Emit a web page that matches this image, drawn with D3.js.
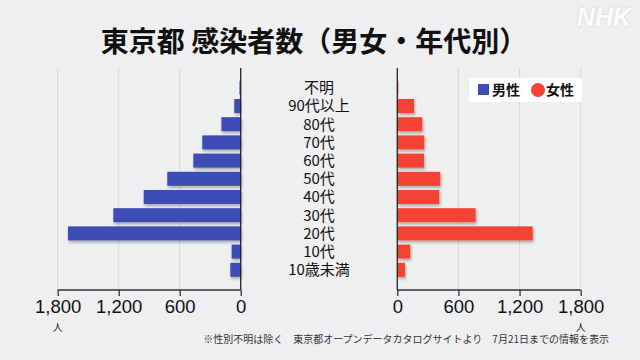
<!DOCTYPE html>
<html>
<head>
<meta charset="utf-8">
<script src="https://d3js.org/d3.v7.min.js"></script>
<style>
  html, body { margin: 0; padding: 0; background: #eeeff1; }
  svg { display: block; }
</style>
</head>
<body>
<div id="chart"></div>
<script>
// Tokyo infections by sex and age group
const ageGroups = ['不明', '90代以上', '80代', '70代', '60代', '50代', '40代', '30代', '20代', '10代', '10歳未満'];
const maleValues = [12, 63, 190, 378, 466, 722, 954, 1253, 1699, 89, 102];
const femaleValues = [10, 164, 245, 265, 262, 422, 412, 769, 1329, 128, 76];
const tickValues = [0, 600, 1200, 1800];

const width = 640;
const height = 360;
const font = '"Noto Sans CJK JP", "Noto Sans", sans-serif';
const numFont = '"Liberation Sans", Arial, sans-serif';

const svg = d3.select('#chart').append('svg')
    .attr('width', width)
    .attr('height', height)
    .style('background', '#eeeff1');

const defs = svg.append('defs');

// drop shadow for bars
const filter = defs.append('filter')
    .attr('id', 'shadow')
    .attr('x', '-20%').attr('y', '-40%')
    .attr('width', '140%').attr('height', '200%');
filter.append('feDropShadow')
    .attr('dx', 1).attr('dy', 2)
    .attr('stdDeviation', 1.5)
    .attr('flood-color', '#000')
    .attr('flood-opacity', 0.3);

const logoShadow = defs.append('filter').attr('id', 'logoShadow');
logoShadow.append('feDropShadow')
    .attr('dx', 0).attr('dy', 0)
    .attr('stdDeviation', 1)
    .attr('flood-color', '#000')
    .attr('flood-opacity', 0.15);

// scales
const y = d3.scaleBand()
    .domain(ageGroups)
    .range([78.7, 278.9])
    .paddingInner(0.23)
    .paddingOuter(0.115);

const xLeft = d3.scaleLinear().domain([0, 1800]).range([240.7, 57.7]);
const xRight = d3.scaleLinear().domain([0, 1800]).range([397.3, 580.7]);

const plotTop = 68;
const plotBottom = 290;

// gridlines
function grid(scale) {
    svg.append('g')
        .selectAll('line')
        .data(tickValues.slice(1))
        .join('line')
        .attr('x1', d => scale(d))
        .attr('x2', d => scale(d))
        .attr('y1', plotTop)
        .attr('y2', plotBottom)
        .attr('stroke', '#d6d8dc')
        .attr('stroke-width', 1);
}
grid(xLeft);
grid(xRight);

// bars
svg.append('g')
    .selectAll('rect')
    .data(ageGroups)
    .join('rect')
    .attr('x', (d, i) => xLeft(maleValues[i]))
    .attr('y', d => y(d))
    .attr('width', (d, i) => xLeft(0) - xLeft(maleValues[i]))
    .attr('height', y.bandwidth())
    .attr('fill', '#3c4db5')
    .attr('filter', 'url(#shadow)');

svg.append('g')
    .selectAll('rect')
    .data(ageGroups)
    .join('rect')
    .attr('x', xRight(0))
    .attr('y', d => y(d))
    .attr('width', (d, i) => xRight(femaleValues[i]) - xRight(0))
    .attr('height', y.bandwidth())
    .attr('fill', '#f44336')
    .attr('filter', 'url(#shadow)');

// zero lines
[xLeft, xRight].forEach(scale => {
    svg.append('line')
        .attr('x1', scale(0)).attr('x2', scale(0))
        .attr('y1', plotTop).attr('y2', plotBottom)
        .attr('stroke', '#222')
        .attr('stroke-width', 1.3);
});

// bottom axes
function axis(scale) {
    const g = svg.append('g')
        .attr('transform', `translate(0,${plotBottom})`)
        .call(d3.axisBottom(scale)
            .tickValues(tickValues)
            .tickSize(6)
            .tickPadding(3.5)
            .tickFormat(d3.format(',')));
    g.select('.domain')
        .attr('d', `M${scale(0)},0H${scale(1800)}`)
        .attr('stroke', '#333')
        .attr('stroke-width', 1.3);
    g.selectAll('.tick line').attr('stroke', '#333').attr('stroke-width', 1.3);
    g.selectAll('.tick text')
        .style('font-family', numFont)
        .style('font-size', '18.5px')
        .attr('fill', '#111');
}
axis(xLeft);
axis(xRight);

// unit labels
[xLeft(1800), xRight(1800)].forEach(x => {
    svg.append('text')
        .attr('x', x)
        .attr('y', 330.5)
        .attr('text-anchor', 'middle')
        .style('font-family', font)
        .style('font-size', '10px')
        .attr('fill', '#222')
        .text('人');
});

// age labels
svg.append('g')
    .selectAll('text')
    .data(ageGroups)
    .join('text')
    .attr('x', 319)
    .attr('y', d => y(d) + y.bandwidth() / 2)
    .attr('dy', '0.36em')
    .attr('text-anchor', 'middle')
    .style('font-family', font)
    .style('font-size', '15px')
    .attr('fill', '#111')
    .text(d => d);

// title
svg.append('text')
    .attr('x', 314)
    .attr('y', 52)
    .attr('text-anchor', 'middle')
    .style('font-family', font)
    .style('font-size', '28px')
    .style('font-weight', '700')
    .attr('fill', '#111')
    .text('東京都 感染者数（男女・年代別）');

// legend
const legend = svg.append('g');
legend.append('rect')
    .attr('x', 469).attr('y', 78)
    .attr('width', 113).attr('height', 24)
    .attr('fill', '#ffffff');
legend.append('rect')
    .attr('x', 478).attr('y', 84)
    .attr('width', 11).attr('height', 11)
    .attr('fill', '#3c4db5');
legend.append('text')
    .attr('x', 492).attr('y', 90).attr('dy', '0.36em')
    .style('font-family', font).style('font-size', '14px').style('font-weight', '700')
    .attr('fill', '#111')
    .text('男性');
legend.append('circle')
    .attr('cx', 538).attr('cy', 90).attr('r', 7)
    .attr('fill', '#f44336');
legend.append('text')
    .attr('x', 546).attr('y', 90).attr('dy', '0.36em')
    .style('font-family', font).style('font-size', '14px').style('font-weight', '700')
    .attr('fill', '#111')
    .text('女性');

// footnote
svg.append('text')
    .attr('x', 609)
    .attr('y', 342.5)
    .attr('text-anchor', 'end')
    .style('font-family', font)
    .style('font-size', '10px')
    .attr('fill', '#333')
    .text('※性別不明は除く　東京都オープンデータカタログサイトより　7月21日までの情報を表示');

// NHK mark
svg.append('text')
    .attr('x', 631)
    .attr('y', 26)
    .attr('text-anchor', 'end')
    .style('font-family', numFont)
    .style('font-size', '25px')
    .style('font-weight', '700')
    .style('font-style', 'italic')
    .attr('fill', '#fbfbfb')
    .attr('filter', 'url(#logoShadow)')
    .text('NHK');
</script>
</body>
</html>
